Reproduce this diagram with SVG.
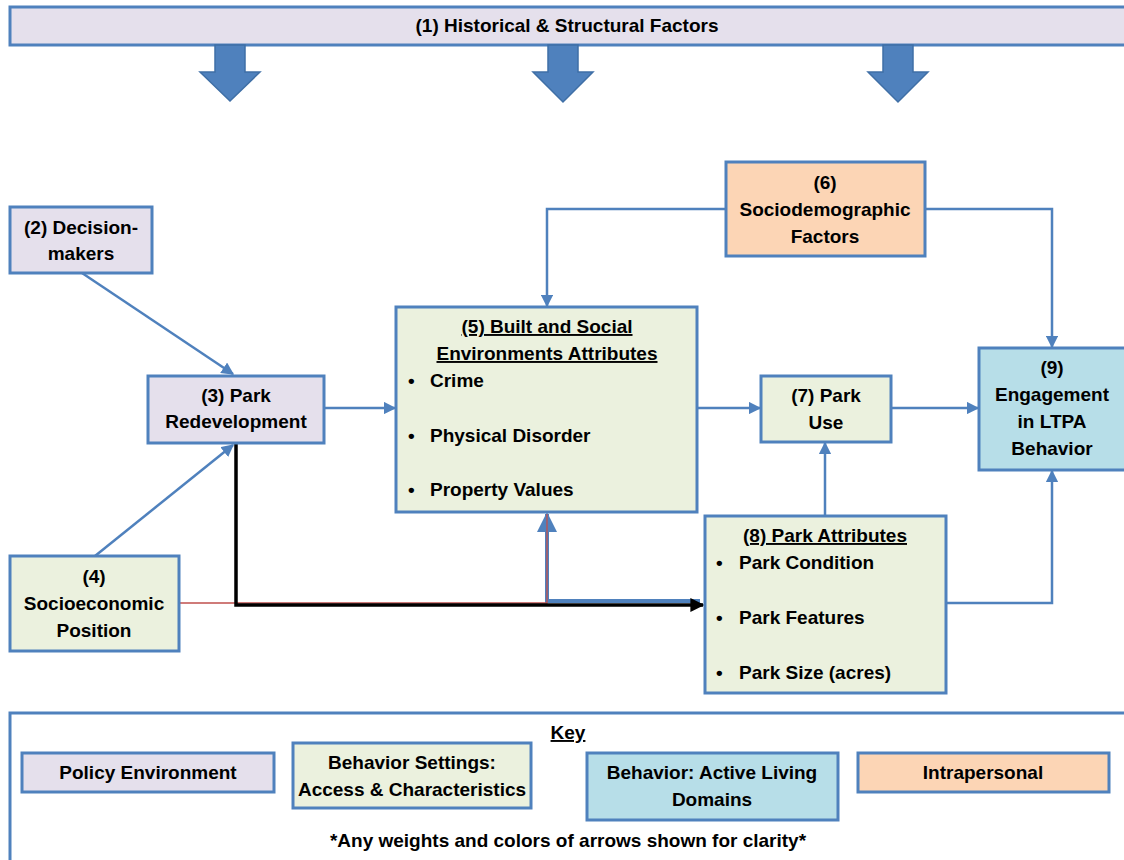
<svg xmlns="http://www.w3.org/2000/svg" width="1124" height="860" viewBox="0 0 1124 860">
<defs>
<marker id="ah" viewBox="0 0 10 10" refX="9" refY="5" markerWidth="5" markerHeight="5" orient="auto" markerUnits="strokeWidth"><path d="M0,0 L10,5 L0,10 z" fill="#4f81bd"/></marker>
<marker id="ahb" viewBox="0 0 10 10" refX="9" refY="5" markerWidth="5" markerHeight="5" orient="auto" markerUnits="strokeWidth"><path d="M0,0 L10,5 L0,10 z" fill="#4f81bd"/></marker>
<marker id="ahk" viewBox="0 0 10 10" refX="9" refY="5" markerWidth="4" markerHeight="4" orient="auto" markerUnits="strokeWidth"><path d="M0,0 L10,5 L0,10 z" fill="#000"/></marker>
<style>
text{font-family:"Liberation Sans",Arial,sans-serif;font-weight:bold;font-size:19px;fill:#000;text-anchor:middle;dominant-baseline:middle}
.l{text-anchor:start}
.u{text-decoration:underline}
.box{stroke:#4f81bd;stroke-width:3}
.pol{fill:#e5e0ec}
.set{fill:#ebf1de}
.beh{fill:#b7dee8}
.intra{fill:#fcd5b5}
.c{fill:none;stroke:#4f81bd;stroke-width:2.5}
.ba{fill:#4f81bd;stroke:#3f6fa6;stroke-width:1.5}
</style>
</defs>
<g id="node1">
<rect class="box pol" x="10" y="7" width="1124" height="38"/>
<text x="567" y="27">(1) Historical &amp; Structural Factors</text>
<path class="ba" d="M215,45 H245 V72 H260 L230,101 L200,72 H215 Z"/>
<path class="ba" d="M548,45 H578 V72 H593 L563,102 L533,72 H548 Z"/>
<path class="ba" d="M883,45 H913 V72 H928 L898,102 L868,72 H883 Z"/>
</g>
<g id="connectors">
<line class="c" x1="82" y1="273" x2="233" y2="374" marker-end="url(#ah)"/>
<line class="c" x1="95" y1="556" x2="233" y2="445" marker-end="url(#ah)"/>
<line class="c" x1="324" y1="408" x2="395" y2="408" marker-end="url(#ah)"/>
<polyline class="c" points="726,209 547,209 547,306" marker-end="url(#ah)"/>
<polyline class="c" points="925,209 1052,209 1052,347" marker-end="url(#ah)"/>
<line class="c" x1="697" y1="408" x2="760" y2="408" marker-end="url(#ah)"/>
<line class="c" x1="891" y1="408" x2="978" y2="408" marker-end="url(#ah)"/>
<line class="c" x1="825" y1="516" x2="825" y2="443" marker-end="url(#ah)"/>
<polyline class="c" points="946,603 1052,603 1052,471" marker-end="url(#ah)"/>
<polyline fill="none" stroke="#4f81bd" stroke-width="4" points="700,601 547,601 547,514" marker-end="url(#ahb)"/>
<polyline fill="none" stroke="#c0504d" stroke-width="1.3" points="179,603 547,603 547,514"/>
<polyline fill="none" stroke="#000" stroke-width="3.5" points="236,443 236,605 703,605" marker-end="url(#ahk)"/>
</g>
<g id="node2">
<rect class="box pol" x="10" y="207" width="142" height="66"/>
<text x="81" y="229">(2) Decision-</text>
<text x="81" y="255">makers</text>
</g>
<g id="node3">
<rect class="box pol" x="148" y="376" width="176" height="67"/>
<text x="236" y="397">(3) Park</text>
<text x="236" y="423">Redevelopment</text>
</g>
<g id="node4">
<rect class="box set" x="10" y="556" width="169" height="95"/>
<text x="94" y="578">(4)</text>
<text x="94" y="605">Socioeconomic</text>
<text x="94" y="632">Position</text>
</g>
<g id="node5">
<rect class="box set" x="396" y="307" width="301" height="205"/>
<text class="u" x="547" y="328">(5) Built and Social</text>
<text class="u" x="547" y="355">Environments Attributes</text>
<text class="l" x="408" y="382">•</text><text class="l" x="430" y="382">Crime</text>
<text class="l" x="408" y="437">•</text><text class="l" x="430" y="437">Physical Disorder</text>
<text class="l" x="408" y="491">•</text><text class="l" x="430" y="491">Property Values</text>
</g>
<g id="node6">
<rect class="box intra" x="726" y="162" width="199" height="94"/>
<text x="825" y="184">(6)</text>
<text x="825" y="211">Sociodemographic</text>
<text x="825" y="238">Factors</text>
</g>
<g id="node7">
<rect class="box set" x="761" y="376" width="130" height="66"/>
<text x="826" y="397">(7) Park</text>
<text x="826" y="424">Use</text>
</g>
<g id="node8">
<rect class="box set" x="705" y="516" width="241" height="177"/>
<text class="u" x="825" y="537">(8) Park Attributes</text>
<text class="l" x="716" y="564">•</text><text class="l" x="739" y="564">Park Condition</text>
<text class="l" x="716" y="619">•</text><text class="l" x="739" y="619">Park Features</text>
<text class="l" x="716" y="674">•</text><text class="l" x="739" y="674">Park Size (acres)</text>
</g>
<g id="node9">
<rect class="box beh" x="979" y="348" width="160" height="122"/>
<text x="1052" y="369">(9)</text>
<text x="1052" y="396">Engagement</text>
<text x="1052" y="423">in LTPA</text>
<text x="1052" y="450">Behavior</text>
</g>
<g id="key">
<rect class="box" fill="#fff" x="10" y="713" width="1130" height="160"/>
<text class="u" x="568" y="734">Key</text>
<rect class="box pol" x="22" y="753" width="252" height="39"/>
<text x="148" y="774">Policy Environment</text>
<rect class="box set" x="293" y="743" width="238" height="65"/>
<text x="412" y="764">Behavior Settings:</text>
<text x="412" y="791">Access &amp; Characteristics</text>
<rect class="box beh" x="587" y="753" width="251" height="67"/>
<text x="712" y="774">Behavior: Active Living</text>
<text x="712" y="801">Domains</text>
<rect class="box intra" x="858" y="753" width="251" height="39"/>
<text x="983" y="774">Intrapersonal</text>
<text x="568" y="842">*Any weights and colors of arrows shown for clarity*</text>
</g>
</svg>
